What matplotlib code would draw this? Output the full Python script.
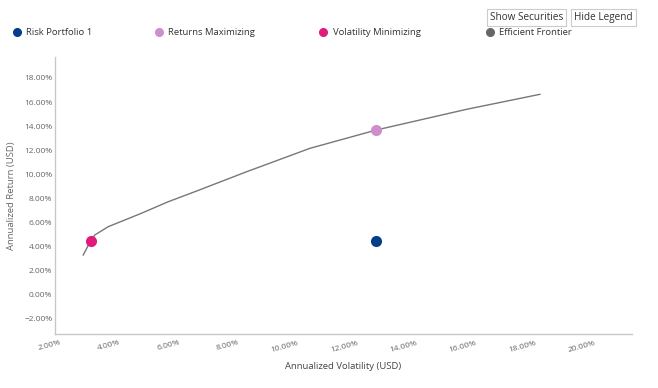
import matplotlib
matplotlib.use("Agg")
import matplotlib.pyplot as plt
from matplotlib.lines import Line2D
from matplotlib.ticker import StrMethodFormatter

plt.rcParams['font.family'] = ['Open Sans', 'DejaVu Sans']

# efficient frontier (volatility %, return %)
frontier_vol = [2.79, 3.04, 3.18, 3.63, 4.19, 4.75, 5.65, 6.55, 8.29, 10.42, 12.66, 15.69, 18.16]
frontier_ret = [3.25, 4.44, 4.92, 5.61, 6.17, 6.73, 7.69, 8.53, 10.19, 12.14, 13.67, 15.39, 16.64]

portfolio_names = ["Risk Portfolio 1", "Returns Maximizing", "Volatility Minimizing"]
portfolio_vol = [12.64, 12.66, 3.04]
portfolio_ret = [4.42, 13.67, 4.44]
portfolio_colors = ["#023e8a", "#cc8fc9", "#e01b7c"]
frontier_color = "#666666"

x_ticks = [2, 4, 6, 8, 10, 12, 14, 16, 18, 20]
y_ticks = [-2, 0, 2, 4, 6, 8, 10, 12, 14, 16, 18]

fig = plt.figure(figsize=(6.58, 3.88), dpi=100)
ax = fig.add_axes([0.0836, 0.1392, 0.8769, 0.7139])

ax.plot(frontier_vol, frontier_ret, color="#777777", lw=1.0, zorder=2)
for name, v, r, c in zip(portfolio_names, portfolio_vol, portfolio_ret, portfolio_colors):
    ax.scatter([v], [r], s=64, color=c, zorder=3, linewidths=0)

ax.set_xlim(1.84, 21.26)
ax.set_ylim(-3.33, 19.75)
ax.set_xticks(x_ticks)
ax.set_yticks(y_ticks)
ax.xaxis.set_major_formatter(StrMethodFormatter('{x:.2f}%'))
ax.yaxis.set_major_formatter(StrMethodFormatter('{x:.2f}%'))
ax.tick_params(axis='x', length=0, pad=4, labelsize=6, labelcolor="#666666",
               labelrotation=15)
for lbl in ax.get_xticklabels():
    lbl.set_ha('right')
    lbl.set_rotation_mode('anchor')
ax.tick_params(axis='y', length=0, pad=2, labelsize=6, labelcolor="#666666")

for s in ['top', 'right']:
    ax.spines[s].set_visible(False)
for s in ['left', 'bottom']:
    ax.spines[s].set_color("#c8c8c8")
    ax.spines[s].set_linewidth(1.0)

ax.set_xlabel("Annualized Volatility (USD)", fontsize=6.8, color="#444444", labelpad=6)
ax.set_ylabel("Annualized Return (USD)", fontsize=6.8, color="#666666", labelpad=6)

# legend entries placed along the top
legend_x = [0.018, 0.234, 0.484, 0.737]
names = portfolio_names + ["Efficient Frontier"]
colors = portfolio_colors + [frontier_color]
for lx, name, c in zip(legend_x, names, colors):
    h = Line2D([], [], marker='o', ls='', color=c, markersize=5.5)
    fig.legend([h], [name], loc='center left', bbox_to_anchor=(lx, 0.915),
               frameon=False, fontsize=6.8, handletextpad=0.5, borderaxespad=0,
               borderpad=0, handlelength=1.0, labelcolor="#333333")

for bx, txt in [(0.7445, "Show Securities"), (0.8725, "Hide Legend")]:
    fig.text(bx, 0.954, txt, fontsize=7.2, color="#333333", va='center', ha='left',
             bbox=dict(boxstyle='square,pad=0.3', fc='white', ec='#cccccc', lw=0.8))

fig.savefig("out.png", dpi=100)
